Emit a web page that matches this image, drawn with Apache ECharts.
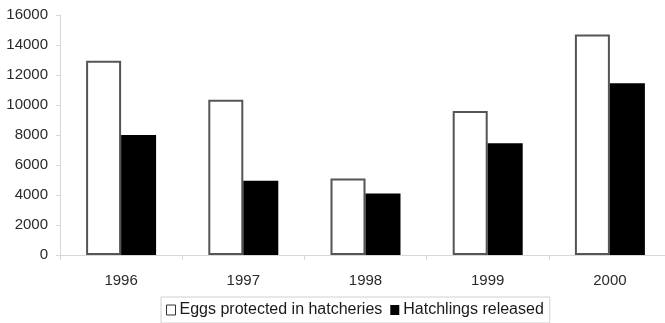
<!DOCTYPE html>
<html>
<head>
<meta charset="utf-8">
<script src="https://cdn.jsdelivr.net/npm/echarts@6/dist/echarts.min.js"></script>
<style>
html,body{margin:0;padding:0;background:#fff;}
#chart{width:665px;height:323px;}
</style>
</head>
<body>
<div id="chart"></div>
<script>
var categories = ['1996', '1997', '1998', '1999', '2000'];
var eggsProtected = [12950, 10350, 5100, 9600, 14700];
var hatchlingsReleased = [8000, 4950, 4100, 7450, 11450];
var seriesNames = ['Eggs protected in hatcheries', 'Hatchlings released'];

var chart = echarts.init(document.getElementById('chart'), null, {renderer: 'canvas'});
var font = 'Liberation Sans, Arial, sans-serif';
chart.setOption({
  animation: false,
  backgroundColor: '#ffffff',
  grid: {left: 60, right: -6, top: 15, bottom: 68, containLabel: false, outerBoundsMode: 'none'},
  legend: {
    top: 297,
    left: 161,
    padding: [5, 6, 5, 5],
    borderColor: '#d0d0d0',
    borderWidth: 1,
    itemWidth: 9,
    itemHeight: 10,
    itemGap: 8,
    textStyle: {fontFamily: font, fontSize: 16, color: '#1a1a1a', padding: [0, 0, 0, -1]},
    data: [
      {name: seriesNames[0], icon: 'rect', itemStyle: {color: '#fff', borderColor: '#333', borderWidth: 1}},
      {name: seriesNames[1], icon: 'rect', itemStyle: {color: '#000', borderWidth: 0}}
    ]
  },
  xAxis: {
    type: 'category',
    data: categories,
    boundaryGap: true,
    axisLine: {show: true, lineStyle: {color: '#d8d8d8', width: 1}},
    axisTick: {show: true, length: 5, lineStyle: {color: '#d8d8d8'}},
    axisLabel: {fontFamily: font, fontSize: 15, color: '#2a2a2a', margin: 18}
  },
  yAxis: {
    type: 'value',
    min: 0,
    max: 16000,
    interval: 2000,
    axisLine: {show: true, lineStyle: {color: '#d8d8d8', width: 1}},
    axisTick: {show: true, length: 4, lineStyle: {color: '#d8d8d8'}},
    splitLine: {show: false},
    axisLabel: {fontFamily: font, fontSize: 15, color: '#2a2a2a', margin: 12, formatter: function (v) { return String(v); }}
  },
  series: [
    {
      name: seriesNames[0],
      type: 'bar',
      data: eggsProtected,
      barWidth: 35,
      barGap: '0%',
      itemStyle: {color: '#ffffff', borderColor: '#555', borderWidth: 2}
    },
    {
      name: seriesNames[1],
      type: 'bar',
      data: hatchlingsReleased,
      barWidth: 35,
      barGap: '0%',
      itemStyle: {color: '#000000', borderColor: '#000', borderWidth: 0}
    }
  ]
});
</script>
</body>
</html>
